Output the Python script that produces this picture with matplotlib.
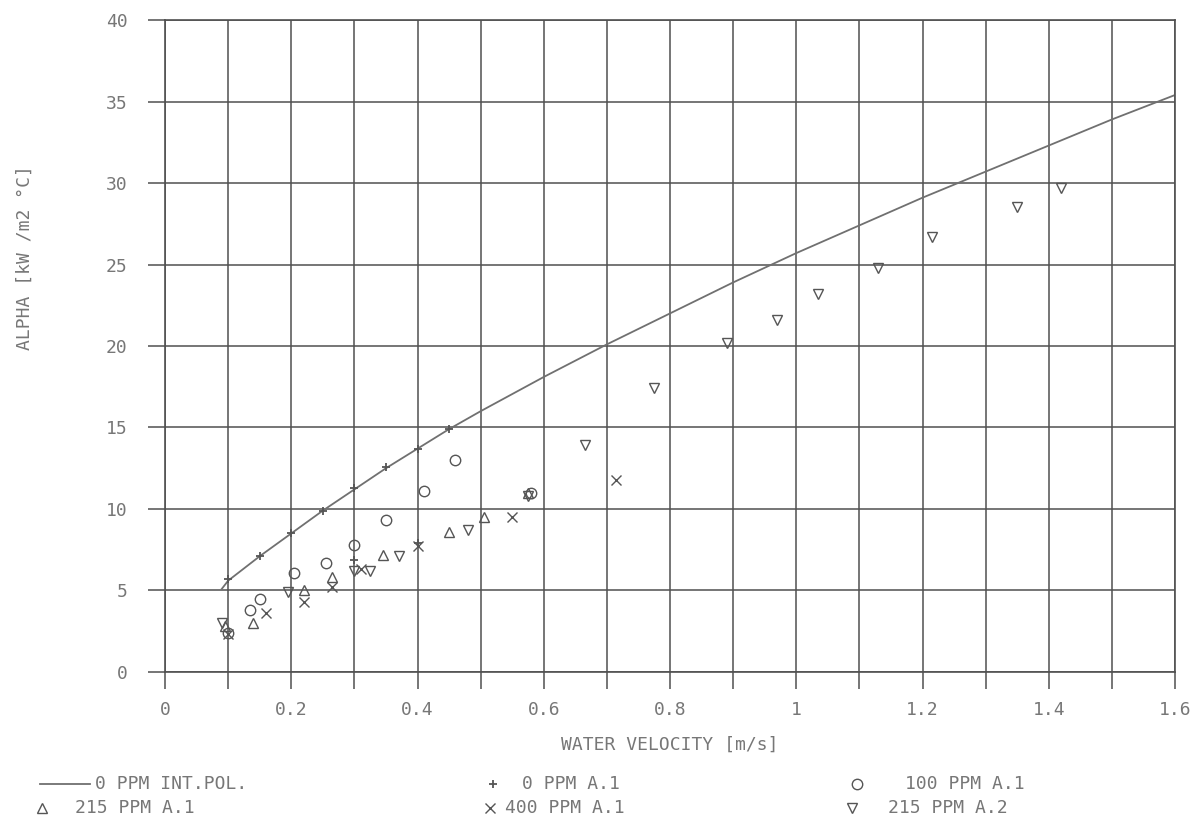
import numpy as np
import matplotlib.pyplot as plt
from matplotlib.lines import Line2D
from matplotlib.ticker import MultipleLocator

# 0 PPM interpolated curve
x_fit = [0.09, 0.1, 0.15, 0.2, 0.25, 0.3, 0.35, 0.4, 0.45, 0.5, 0.6, 0.7,
         0.8, 0.9, 1.0, 1.1, 1.2, 1.3, 1.4, 1.5, 1.6]
y_fit = [5.1, 5.6, 7.1, 8.5, 9.9, 11.2, 12.5, 13.7, 14.9, 16.0, 18.1, 20.1,
         22.0, 23.9, 25.7, 27.4, 29.1, 30.7, 32.3, 33.9, 35.4]

# 0 PPM A.1
x_0a1 = [0.1, 0.15, 0.2, 0.25, 0.3, 0.35, 0.4, 0.45, 0.3, 0.4]
y_0a1 = [5.7, 7.1, 8.5, 9.9, 11.3, 12.6, 13.7, 14.9, 6.9, 7.9]

# 100 PPM A.1
x_100a1 = [0.1, 0.135, 0.15, 0.205, 0.255, 0.3, 0.35, 0.41, 0.46, 0.58]
y_100a1 = [2.4, 3.8, 4.5, 6.1, 6.7, 7.8, 9.3, 11.1, 13.0, 11.0]

# 215 PPM A.1
x_215a1 = [0.095, 0.14, 0.22, 0.265, 0.345, 0.45, 0.505, 0.575]
y_215a1 = [2.8, 3.0, 5.0, 5.8, 7.2, 8.6, 9.5, 11.0]

# 400 PPM A.1
x_400a1 = [0.1, 0.16, 0.22, 0.265, 0.31, 0.4, 0.55, 0.715]
y_400a1 = [2.3, 3.6, 4.3, 5.2, 6.3, 7.7, 9.5, 11.8]

# 215 PPM A.2
x_215a2 = [0.09, 0.195, 0.3, 0.325, 0.37, 0.48, 0.575, 0.665, 0.775, 0.89,
           0.97, 1.035, 1.13, 1.215, 1.35, 1.42]
y_215a2 = [3.0, 4.9, 6.2, 6.2, 7.1, 8.7, 10.8, 13.9, 17.4, 20.2,
           21.6, 23.2, 24.8, 26.7, 28.5, 29.7]

txt = '#777777'
mk = '#555555'
grid_c = '#505050'
W, H = 1200, 824
plt.rcParams['font.family'] = 'DejaVu Sans Mono'
fs = 13

fig = plt.figure(figsize=(12, 8.24), dpi=100)
ax = fig.add_axes([0.1375, 0.1845, 0.8417, 0.7912])

h1, = ax.plot(x_fit, y_fit, color='#707070', lw=1.3, label='0 PPM INT.POL.')
h2, = ax.plot(x_0a1, y_0a1, ls='none', marker='+', ms=6, mew=1.3, color=mk,
              label='0 PPM A.1')
h3, = ax.plot(x_100a1, y_100a1, ls='none', marker='o', ms=7.5, mfc='none',
              mew=1.0, color=mk, label='100 PPM A.1')
h4, = ax.plot(x_215a1, y_215a1, ls='none', marker='^', ms=7.5, mfc='none',
              mew=1.0, color=mk, label='215 PPM A.1')
h5, = ax.plot(x_400a1, y_400a1, ls='none', marker='x', ms=6.5, mew=1.0,
              color=mk, label='400 PPM A.1')
h6, = ax.plot(x_215a2, y_215a2, ls='none', marker='v', ms=7.5, mfc='none',
              mew=1.0, color=mk, label='215 PPM A.2')

ax.set_xlim(0, 1.6)
ax.set_ylim(0, 40)
ax.xaxis.set_minor_locator(MultipleLocator(0.1))
ax.yaxis.set_major_locator(MultipleLocator(5))
ax.set_xticks(np.arange(0, 1.61, 0.2))
ax.set_xticklabels(['0', '0.2', '0.4', '0.6', '0.8', '1', '1.2', '1.4', '1.6'])
ax.grid(True, which='both', color=grid_c, lw=1.1)
ax.set_axisbelow(True)
ax.tick_params(which='both', direction='out', length=12, width=1.1,
               color=grid_c, labelcolor=txt, labelsize=fs)
ax.tick_params(axis='x', pad=9)
ax.tick_params(axis='y', pad=15)
for s in ax.spines.values():
    s.set_color(grid_c)
    s.set_linewidth(1.2)

ax.set_xlabel('WATER VELOCITY [m/s]', color=txt, fontsize=fs, labelpad=12)
ax.set_ylabel('ALPHA [kW /m2 °C]', color=txt, fontsize=fs)
ax.yaxis.set_label_coords(-0.13, 0.635)

# legend at the bottom, drawn by hand: (handle, key x, text x, row y) in pixels
entries = [(h1, None, 95, 784),
           (h2, 493, 522, 784),
           (h3, 857, 905, 784),
           (h4, 42, 75, 808),
           (h5, 490, 505, 808),
           (h6, 852, 888, 808)]
for h, kx, tx, ry in entries:
    yf = 1 - ry / H
    if kx is None:
        fig.add_artist(Line2D([40 / W, 90 / W], [yf, yf], color=h.get_color(),
                              lw=h.get_linewidth(), transform=fig.transFigure))
    else:
        fig.add_artist(Line2D([kx / W], [yf], ls='none', marker=h.get_marker(),
                              ms=h.get_markersize(), mfc=h.get_markerfacecolor(),
                              mec=h.get_markeredgecolor(), mew=h.get_markeredgewidth(),
                              transform=fig.transFigure))
    fig.text(tx / W, yf, h.get_label(), color=txt, fontsize=fs,
             ha='left', va='center')

fig.savefig('out.png', dpi=100)
